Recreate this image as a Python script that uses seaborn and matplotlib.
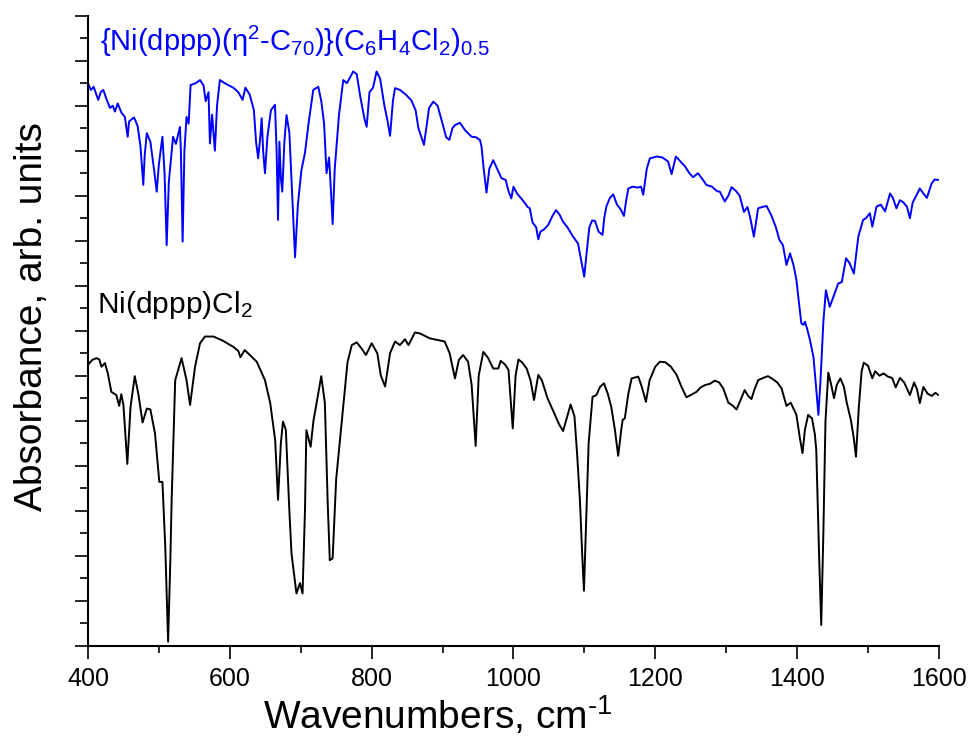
import matplotlib
matplotlib.use('Agg')
import matplotlib.pyplot as plt
import pandas as pd
import numpy as np
import seaborn as sns
from matplotlib.ticker import MultipleLocator, NullFormatter

# IR spectra (wavenumber, absorbance in arb. units)
black_wn = [400, 406, 412, 416, 419, 424, 428, 433, 440, 444, 447, 450, 455.5, 460, 466, 471, 477, 483, 488,
            494.5, 500.6, 505, 509, 513, 516, 518, 523, 532, 539, 544, 551, 558, 565, 577, 590, 605, 612, 615,
            621, 638, 649.6, 657, 664, 668, 672, 675, 679, 684, 687, 694, 699, 702.6, 706, 708, 714, 718, 729,
            734, 738, 741, 745, 750, 760, 766, 772, 779, 786, 792, 800, 808, 813, 819, 826, 833, 840, 847, 852,
            861, 868, 882, 903, 910, 917.5, 923, 929, 936, 941, 946.7, 951, 957.5, 964, 971.5, 978.6, 982, 988,
            993, 999, 1003, 1007, 1012, 1018.6, 1024, 1029, 1035, 1040, 1048, 1058.5, 1064, 1070, 1076, 1080.6,
            1086, 1090, 1093.7, 1097, 1099.4, 1102, 1106, 1111.5, 1117, 1122, 1127.6, 1133, 1138, 1143, 1147.7,
            1152, 1154, 1157, 1162, 1166.6, 1176, 1181, 1186.8, 1192, 1200, 1206.5, 1214, 1222, 1230, 1237, 1244,
            1251, 1258, 1264, 1269.8, 1277, 1284, 1290, 1295.8, 1303, 1308, 1314.6, 1320, 1326, 1331, 1335.6,
            1340, 1345, 1352, 1359, 1366, 1372, 1378, 1385, 1391, 1399, 1404, 1407.6, 1411, 1415.6, 1421, 1425,
            1427, 1431, 1434, 1437, 1440, 1444, 1448, 1452, 1456, 1461, 1466, 1470, 1476, 1480, 1483, 1487, 1491,
            1494, 1500, 1506, 1510, 1516, 1522, 1528, 1534, 1539, 1545, 1551, 1559, 1565, 1569, 1573, 1578, 1584,
            1590, 1595, 1599]
black_ab = [6.24, 6.35, 6.39, 6.36, 6.20, 6.28, 6.05, 5.64, 5.57, 5.33, 5.59, 5.35, 4.04, 5.3, 5.99, 5.6, 4.96,
            5.27, 5.25, 4.72, 3.64, 3.64, 2.2, 0.09, 1.8, 3.24, 5.9, 6.39, 5.9, 5.35, 6.2, 6.72, 6.87, 6.87, 6.78,
            6.64, 6.55, 6.41, 6.57, 6.31, 5.9, 5.39, 4.57, 3.24, 4.5, 4.98, 4.8, 3.0, 2.05, 1.16, 1.39, 1.16, 3.0,
            4.79, 4.42, 5.0, 5.99, 5.4, 3.2, 1.9, 1.94, 3.7, 5.31, 6.3, 6.68, 6.74, 6.6, 6.46, 6.72, 6.5, 6.0,
            5.76, 6.5, 6.76, 6.68, 6.81, 6.68, 6.96, 6.94, 6.83, 6.76, 6.5, 5.94, 6.35, 6.46, 6.31, 5.8, 4.44, 6.0,
            6.53, 6.4, 6.16, 6.16, 6.33, 6.25, 6.13, 4.83, 6.0, 6.36, 6.3, 6.16, 5.9, 5.46, 6.02, 5.9, 5.5, 5.13,
            4.93, 4.77, 5.1, 5.36, 5.1, 4.2, 3.24, 2.0, 1.22, 2.5, 4.5, 5.53, 5.57, 5.75, 5.83, 5.6, 5.3, 4.8,
            4.22, 4.8, 5.02, 5.05, 5.6, 5.94, 5.98, 5.75, 5.42, 5.9, 6.2, 6.31, 6.3, 6.2, 6.02, 5.75, 5.52, 5.58,
            5.64, 5.74, 5.79, 5.82, 5.89, 5.85, 5.72, 5.4, 5.35, 5.25, 5.45, 5.68, 5.55, 5.48, 5.7, 5.9, 5.95,
            5.99, 5.92, 5.85, 5.72, 5.33, 5.4, 5.13, 4.6, 4.28, 4.8, 5.13, 5.05, 4.7, 4.35, 2.0, 0.46, 2.5, 5.0,
            6.07, 5.8, 5.5, 5.8, 5.94, 5.75, 5.4, 5.0, 4.6, 4.2, 5.3, 6.1, 6.29, 6.22, 5.94, 6.1, 6.0, 6.05, 5.98,
            5.95, 5.74, 5.95, 5.85, 5.57, 5.85, 5.7, 5.39, 5.75, 5.6, 5.55, 5.62, 5.57]

blue_wn = [400, 404, 408, 414.5, 418, 421.6, 426, 431, 435, 438, 442, 447, 452, 456, 458, 465, 470, 474, 478, 480,
           483, 488, 493, 497, 500, 505, 508, 511, 514, 520, 524, 529.7, 531, 533.5, 536, 539, 542, 544.7, 552,
           558, 563, 566, 570, 572, 575, 579, 582, 586, 595, 605, 612, 618, 622, 628, 634, 637, 640, 643, 645,
           647, 649.6, 653, 658, 663.7, 666, 668, 670, 672, 674, 677, 680, 684, 688, 692, 696, 701, 706, 711,
           717.7, 724.8, 729, 733, 736.4, 740, 743, 745, 748, 754, 760, 765, 770, 774, 779, 784, 790, 793, 797,
           802, 807, 812, 818, 822, 826, 830, 833, 840, 848, 856, 862, 866, 873.8, 877, 881, 887, 893, 900, 905,
           909.6, 914, 917.5, 924.5, 932, 941, 947, 952.7, 955, 958, 962, 966, 971.5, 977, 983, 989, 993, 997,
           1000, 1005, 1013, 1020, 1023, 1027, 1032, 1035, 1038, 1043, 1049, 1055, 1060, 1065, 1070, 1076, 1084,
           1091, 1095, 1099.8, 1103, 1107, 1111, 1115, 1120, 1125.6, 1128, 1131, 1136, 1140.7, 1146, 1151,
           1155.8, 1159, 1162, 1168, 1175, 1180, 1183, 1188, 1192.4, 1202, 1210, 1218, 1223, 1229, 1236, 1242,
           1248, 1253.5, 1260, 1266, 1272, 1280, 1287, 1291, 1298, 1303, 1307.6, 1314, 1319, 1325, 1330, 1334,
           1339, 1345, 1351, 1357, 1364, 1370, 1375, 1380, 1385, 1390, 1395, 1399, 1402, 1406, 1409, 1411, 1414,
           1418, 1423, 1427, 1430, 1433, 1437, 1440.6, 1446, 1452, 1458, 1463, 1469, 1474, 1480, 1486.3, 1493,
           1497, 1502.6, 1506, 1512, 1518, 1524, 1531, 1535, 1540, 1545, 1550, 1555, 1559, 1563, 1568, 1573,
           1578, 1583, 1589.6, 1594, 1599]
blue_ab = [12.5, 12.35, 12.42, 12.13, 12.3, 12.35, 12.15, 11.95, 12.0, 11.87, 12.05, 11.85, 11.75, 11.31, 11.65,
           11.74, 11.55, 11.1, 10.24, 10.9, 11.39, 11.2, 10.6, 10.09, 10.7, 11.31, 10.5, 8.9, 10.3, 11.31, 11.15,
           11.53, 11.0, 8.98, 11.0, 11.75, 11.6, 12.46, 12.5, 12.57, 12.45, 12.1, 12.3, 11.16, 11.8, 11.0, 12.0,
           12.57, 12.48, 12.4, 12.3, 12.13, 12.4, 12.25, 11.9, 11.2, 10.83, 11.3, 11.72, 11.0, 10.5, 11.3, 11.9,
           12.02, 11.0, 9.46, 11.2, 10.4, 10.09, 11.2, 11.79, 11.4, 10.0, 8.63, 9.8, 10.57, 10.95, 11.6, 12.35,
           12.42, 12.1, 11.6, 10.5, 10.85, 10.0, 9.37, 10.6, 11.8, 12.57, 12.5, 12.64, 12.76, 12.7, 12.2, 11.7,
           11.53, 12.3, 12.4, 12.76, 12.6, 12.0, 11.7, 11.33, 12.1, 12.39, 12.35, 12.25, 12.12, 11.9, 11.5,
           11.13, 11.5, 11.95, 12.09, 12.0, 11.6, 11.3, 11.24, 11.5, 11.57, 11.62, 11.45, 11.31, 11.3, 11.24,
           11.09, 10.6, 10.07, 10.6, 10.79, 10.6, 10.39, 10.35, 10.1, 9.94, 10.2, 10.05, 9.9, 9.75, 9.72, 9.4,
           9.3, 9.03, 9.2, 9.25, 9.35, 9.55, 9.68, 9.58, 9.42, 9.3, 9.09, 8.94, 8.6, 8.2, 8.7, 9.3, 9.45, 9.44,
           9.2, 9.13, 9.5, 9.76, 9.95, 10.03, 9.8, 9.7, 9.55, 9.9, 10.16, 10.2, 10.18, 10.2, 10.02, 10.6, 10.83,
           10.87, 10.85, 10.76, 10.48, 10.87, 10.75, 10.65, 10.5, 10.41, 10.5, 10.38, 10.24, 10.2, 10.1, 10.09,
           9.87, 10.0, 10.19, 10.1, 10.0, 9.64, 9.75, 9.5, 9.09, 9.72, 9.75, 9.77, 9.55, 9.3, 9.02, 8.9, 8.46,
           8.72, 8.45, 8.13, 7.7, 7.16, 7.13, 7.2, 7.05, 6.8, 6.42, 5.7, 5.13, 5.9, 7.2, 7.9, 7.53, 7.79, 8.05,
           8.08, 8.61, 8.5, 8.27, 9.09, 9.46, 9.5, 9.61, 9.31, 9.76, 9.8, 9.65, 10.05, 9.95, 9.72, 9.9, 9.85,
           9.75, 9.5, 9.85, 10.0, 10.16, 10.05, 9.95, 10.27, 10.36, 10.35]

x_ticks = [400, 600, 800, 1000, 1200, 1400, 1600]
blue_label = r'{Ni(dppp)(η$^2$-C$_{70}$)}(C$_6$H$_4$Cl$_2$)$_{0.5}$'
black_label = r'Ni(dppp)Cl$_2$'

sns.set_style('ticks')
plt.rcParams['font.family'] = ['Liberation Sans', 'DejaVu Sans']
plt.rcParams['mathtext.fontset'] = 'custom'
plt.rcParams['mathtext.rm'] = 'Liberation Sans'
plt.rcParams['mathtext.it'] = 'Liberation Sans:italic'
plt.rcParams['mathtext.bf'] = 'Liberation Sans:bold'
for key in ['text.color', 'axes.labelcolor', 'xtick.color', 'ytick.color', 'axes.edgecolor']:
    plt.rcParams[key] = 'black'

df_black = pd.DataFrame({'wn': black_wn, 'ab': black_ab})
df_blue = pd.DataFrame({'wn': blue_wn, 'ab': blue_ab})

fig = plt.figure(figsize=(9.72, 7.47), dpi=100)
ax = fig.add_axes([0.0905, 0.1356, 0.8755, 0.8434])

sns.lineplot(data=df_black, x='wn', y='ab', color='black', lw=1.4, ax=ax, estimator=None, sort=False)
sns.lineplot(data=df_blue, x='wn', y='ab', color='#0000ff', lw=1.4, ax=ax, estimator=None, sort=False)

ax.set_xlim(400, 1600)
ax.set_ylim(0, 14)
ax.set_xticks(x_ticks)
ax.xaxis.set_minor_locator(MultipleLocator(100))
ax.yaxis.set_major_locator(MultipleLocator(1))
ax.yaxis.set_minor_locator(MultipleLocator(0.5))
ax.yaxis.set_major_formatter(NullFormatter())
ax.tick_params(axis='both', which='major', length=9.5, width=1.2, direction='out')
ax.tick_params(axis='both', which='minor', length=5, width=1.2, direction='out')
ax.tick_params(axis='x', labelsize=18, pad=6)
ax.tick_params(axis='y', which='minor', length=6)

sns.despine(ax=ax)
for s in ['left', 'bottom']:
    ax.spines[s].set_linewidth(1.5)

ax.set_xlabel(r'Wavenumbers, cm$^{\text{-}1}$', fontsize=28, labelpad=2)
ax.set_ylabel('Absorbance, arb. units', fontsize=28, labelpad=14)
# the labels sit a little off-centre in the original
ax.xaxis.label.set_x(0.411)
ax.yaxis.label.set_y(0.522)

ax.text(417, 13.22, blue_label, color='#0000ff', fontsize=21, va='baseline', ha='left')
ax.text(413, 7.39, black_label, color='black', fontsize=21.5, va='baseline', ha='left')

fig.savefig('out.png', dpi=100)
